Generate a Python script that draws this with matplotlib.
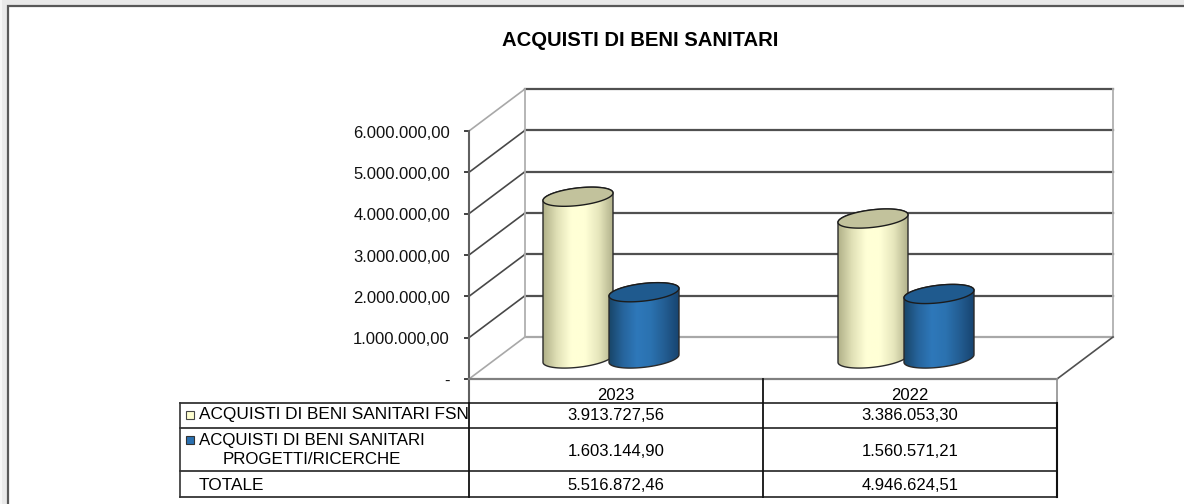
import numpy as np
import matplotlib
matplotlib.use("Agg")
import matplotlib.pyplot as plt
from matplotlib.path import Path
from matplotlib.patches import PathPatch, Rectangle
from matplotlib.colors import LinearSegmentedColormap

plt.rcParams["font.family"] = ["Liberation Sans", "DejaVu Sans"]

# data
title = "ACQUISTI DI BENI SANITARI"
years = ["2023", "2022"]
fsn = [3913727.56, 3386053.30]
progetti = [1603144.90, 1560571.21]
fsn_labels = ["3.913.727,56", "3.386.053,30"]
progetti_labels = ["1.603.144,90", "1.560.571,21"]
totale_labels = ["5.516.872,46", "4.946.624,51"]
ticks = [0, 1000000, 2000000, 3000000, 4000000, 5000000, 6000000]
tick_labels = ["-", "1.000.000,00", "2.000.000,00", "3.000.000,00", "4.000.000,00", "5.000.000,00", "6.000.000,00"]

fig = plt.figure(figsize=(11.84, 5.04), dpi=100)
ax = fig.add_axes([0, 0, 1, 1])
# axes in image pixels, easier for the fake 3d
ax.set_xlim(0, 1184)
ax.set_ylim(504, 0)
ax.axis("off")

# frame around the page, open on the right and at the bottom
ax.add_patch(Rectangle((0, 0), 1184, 504, fc="#e9e9e9", ec="none", zorder=0))
ax.add_patch(Rectangle((0, 0), 2, 504, fc="#f6f6f6", ec="none", zorder=0.1))
ax.add_patch(Rectangle((7.5, 5.5), 1190, 520, fc="white", ec="#585858", lw=1.6, zorder=0.5))

front_l, front_r = 469, 1057
dx, dy = 56, -42
y0 = 379
per_val = 248 / 6000000


def ypos(v):
    return y0 - v * per_val


# walls and grid
for v, lab in zip(ticks, tick_labels):
    y = ypos(v)
    light = v == 0 or v == 6000000
    ax.plot([front_l, front_l + dx], [y, y + dy], color="#a8a8a8" if light else "#484848", lw=1.2, zorder=1)
    ax.plot([front_l + dx, front_r + dx], [y + dy, y + dy], color="#a8a8a8" if v == 0 else "#505050", lw=1.6, zorder=1)
    ax.plot([front_l - 4, front_l], [y, y], color="#404040", lw=1.4, zorder=2)
    ax.text(450, y + 2, lab, ha="right", va="center", fontsize=12, color="#111111")
ax.plot([front_l, front_l], [ypos(6000000), y0 + 24], color="#606060", lw=1.5, zorder=2)
ax.plot([front_l + dx] * 2, [ypos(6000000) + dy, y0 + dy], color="#b0b0b0", lw=1.3, zorder=1)
ax.plot([front_r + dx] * 2, [ypos(6000000) + dy, y0 + dy], color="#b0b0b0", lw=1.3, zorder=1)
ax.plot([front_l, front_r], [y0, y0], color="#808080", lw=1.6, zorder=2)
ax.plot([front_r, front_r + dx], [y0, y0 + dy], color="#505050", lw=1.2, zorder=1)

yellow = LinearSegmentedColormap.from_list("y", ["#b0b088", "#e0e0b6", "#ffffd6", "#ffffd6", "#e6e6bc", "#b2b28c"])
blue = LinearSegmentedColormap.from_list("b", ["#184568", "#26649c", "#2e78ba", "#2b72b0", "#235d92", "#174470"])
group_c = [611, 906]
half_w = 35
tilt = 3.8
minor = 8.8
base_y = y0 - 20.5


def ellipse(cx, cy, t):
    return np.column_stack([cx + half_w * np.cos(t), cy - tilt * np.cos(t) + minor * np.sin(t)])


def cylinder(cx, value, cmap, top_color, z):
    top = ypos(value) - (y0 - base_y)
    lower = ellipse(cx, base_y, np.linspace(0, np.pi, 60))
    upper = ellipse(cx, top, np.linspace(np.pi, 2 * np.pi, 60))
    body = np.vstack([lower, upper])
    patch = PathPatch(Path(np.vstack([body, body[0]])), fc="none", ec="#2a2a2a", lw=1.0, zorder=z + 0.2)
    ax.add_patch(patch)
    grad = np.linspace(0, 1, 256).reshape(1, -1)
    im = ax.imshow(grad, cmap=cmap, extent=[cx - half_w, cx + half_w, base_y + 12, top - 12], aspect="auto", zorder=z)
    im.set_clip_path(patch)
    cap = ellipse(cx, top, np.linspace(0, 2 * np.pi, 120))
    ax.add_patch(PathPatch(Path(cap), fc=top_color, ec="#1c1c1c", lw=1.0, zorder=z + 0.3))


for i in range(len(years)):
    cylinder(group_c[i] - 33, fsn[i], yellow, "#c2c29c", 3)
    cylinder(group_c[i] + 33, progetti[i], blue, "#1f5a8e", 4)
ax.set_xlim(0, 1184)
ax.set_ylim(504, 0)

# table under the chart
table_l = 180
row_y = [403, 428, 471, 497]
for y in row_y:
    ax.plot([table_l, front_r], [y, y], color="#222222", lw=1.2, zorder=5)
ax.plot([table_l, table_l], [row_y[0], row_y[-1]], color="#333333", lw=1.2, zorder=5)
ax.plot([front_l, front_l], [row_y[0], row_y[-1]], color="#111111", lw=1.3, zorder=5)
ax.plot([763, 763], [y0, row_y[-1]], color="#111111", lw=1.3, zorder=5)
ax.plot([front_r, front_r], [y0, row_y[0]], color="#909090", lw=1.2, zorder=5)
ax.plot([front_r, front_r], [row_y[0], row_y[-1]], color="#111111", lw=1.5, zorder=5)

for i, c in enumerate([616, 910]):
    ax.text(c, 395, years[i], ha="center", va="center", fontsize=12)
    ax.text(c, 416, fsn_labels[i], ha="center", va="center", fontsize=12)
    ax.text(c, 451, progetti_labels[i], ha="center", va="center", fontsize=12)
    ax.text(c, 485, totale_labels[i], ha="center", va="center", fontsize=12)

ax.add_patch(Rectangle((186, 411), 8, 8, fc="#ffffd0", ec="#444444", lw=0.8, zorder=6))
ax.add_patch(Rectangle((186, 436), 8, 8, fc="#2a70b0", ec="#333333", lw=0.8, zorder=6))
ax.text(199, 415, "ACQUISTI DI BENI SANITARI FSN", va="center", fontsize=12.4)
ax.text(199, 441, "ACQUISTI DI BENI SANITARI", va="center", fontsize=12.2)
ax.text(223, 460, "PROGETTI/RICERCHE", va="center", fontsize=12.2)
ax.text(199, 485, "TOTALE", va="center", fontsize=12.4)

ax.text(640, 41, title, ha="center", va="center", fontsize=14.6, fontweight="bold")

fig.savefig("out.png", dpi=100)
